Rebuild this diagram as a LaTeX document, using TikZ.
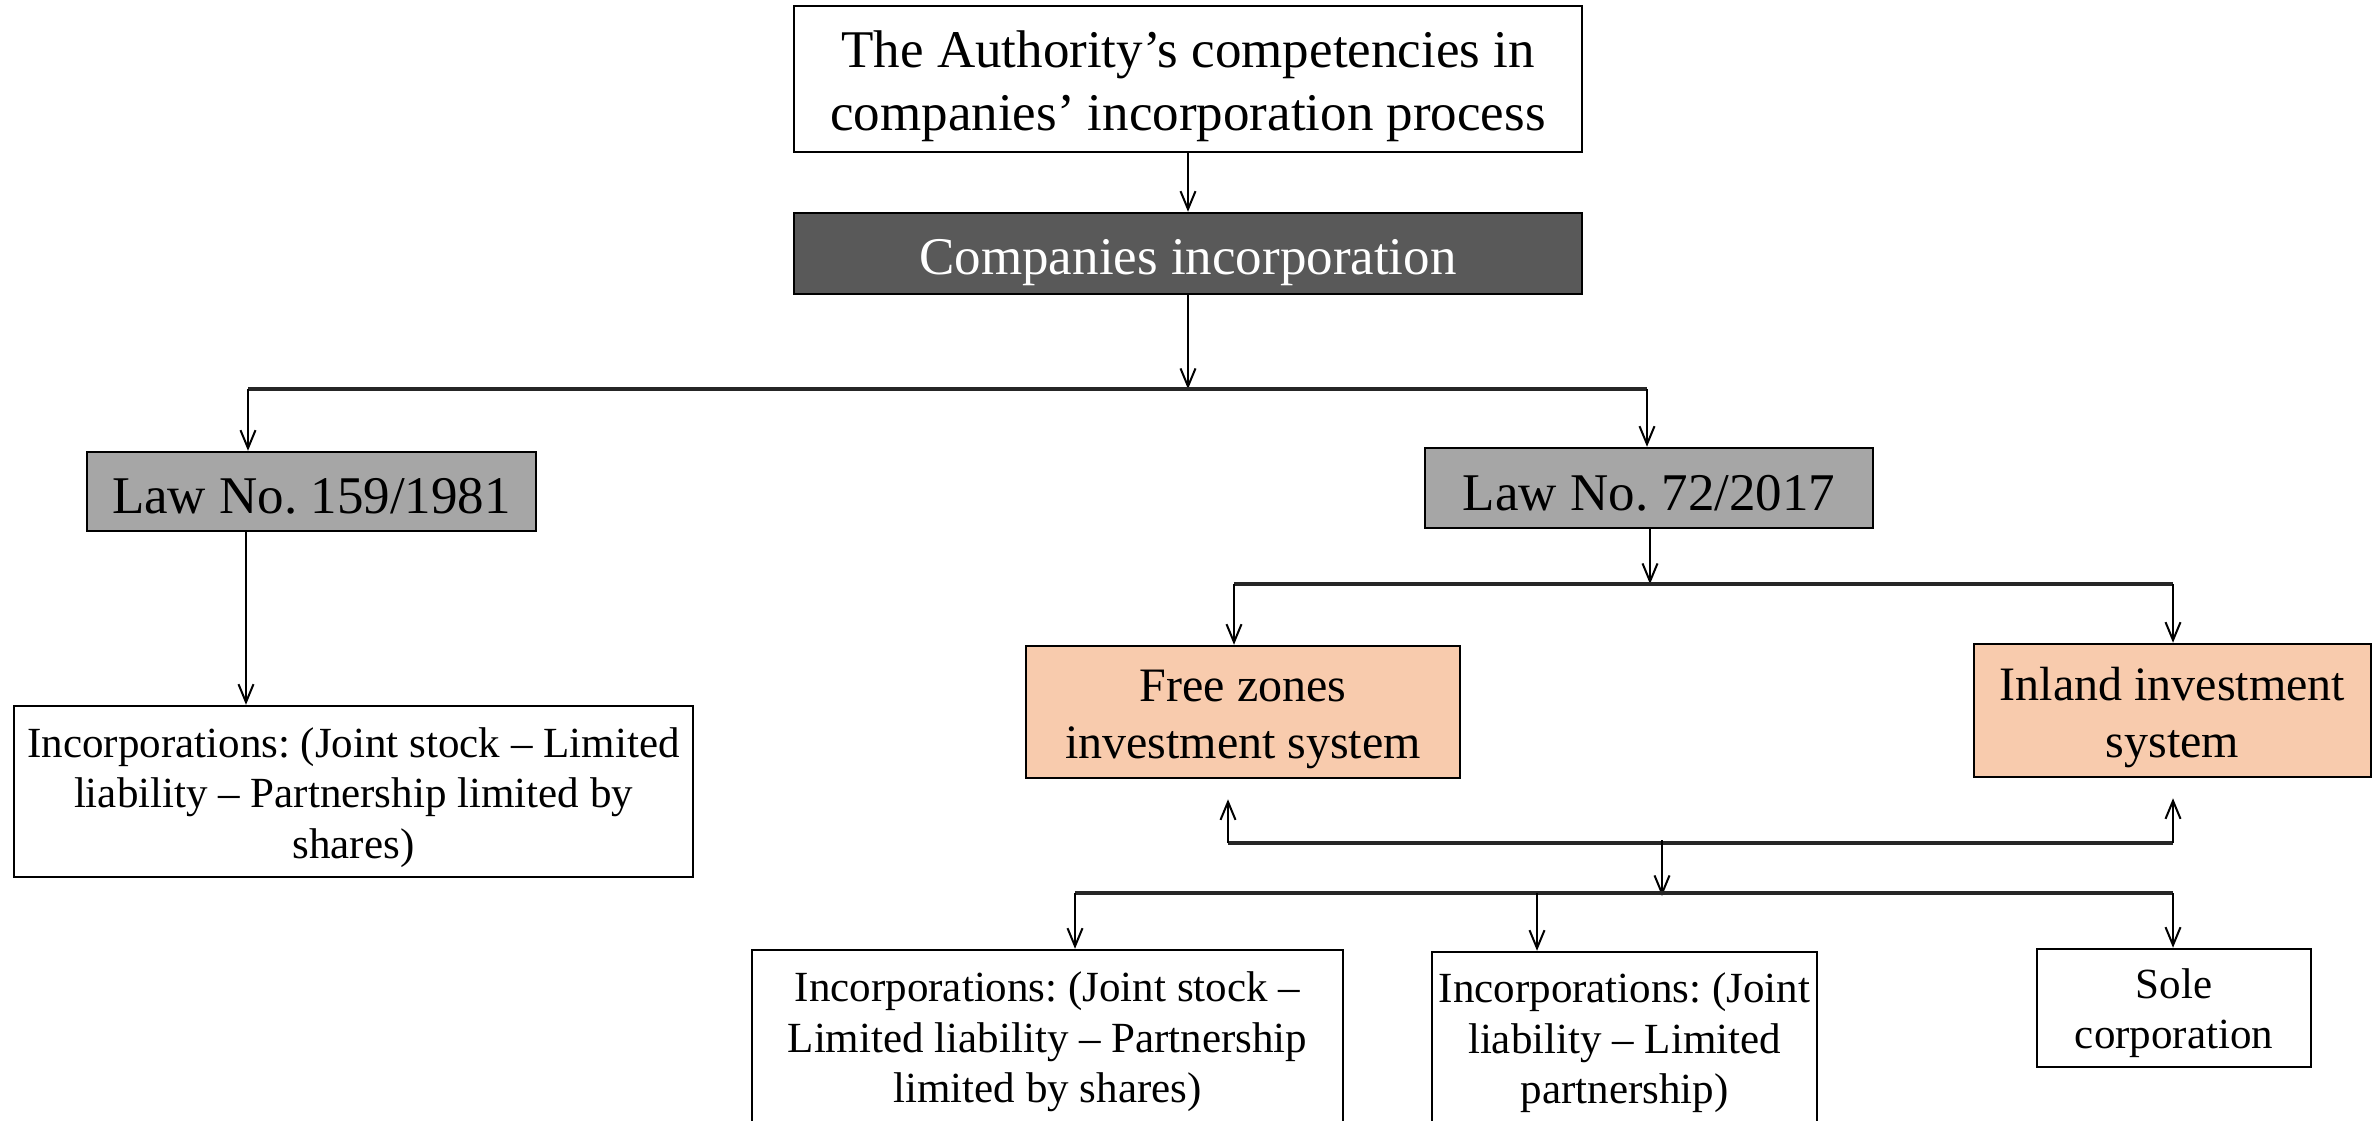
\documentclass[tikz,border=0pt]{standalone}
\usepackage{fontspec}
\setmainfont{Liberation Serif}
\usetikzlibrary{arrows.meta}
\frenchspacing
\definecolor{darkbox}{HTML}{595959}
\definecolor{lawgray}{HTML}{A6A6A6}
\definecolor{peach}{HTML}{F8CBAD}
\tikzset{
  box/.style={draw=black, line width=2.5pt, rectangle, inner sep=0pt},
  lbl/.style={inner sep=0pt, align=center, text=black},
  bigtxt/.style={lbl, font=\fontsize{53}{63}\selectfont},
  midtxt/.style={lbl, font=\fontsize{48}{57}\selectfont},
  smalltxt/.style={lbl, font=\fontsize{43}{50.5}\selectfont},
  arr/.style={line width=2pt, -{Straight Barb[length=18pt, width=15pt, line width=2pt]}},
  bus/.style={line width=4pt, draw=black!85},
}
\begin{document}
\begin{tikzpicture}[x=1pt, y=-1pt]
\useasboundingbox (0,0) rectangle (2374,1120);
\clip (0,0) rectangle (2374,1120);
\fill[white] (0,0) rectangle (2374,1120);

% boxes
\node[box, fill=white, minimum width=788pt, minimum height=146pt] (top) at (1188,79) {};
\node[box, fill=darkbox, minimum width=788pt, minimum height=81pt] (inc) at (1188,253.5) {};
\node[box, fill=lawgray, minimum width=449pt, minimum height=79pt] (lawA) at (311.5,491.5) {};
\node[box, fill=lawgray, minimum width=448pt, minimum height=80pt] (lawB) at (1649,488) {};
\node[box, fill=white, minimum width=679pt, minimum height=171pt] (incA) at (353.5,791.5) {};
\node[box, fill=peach, minimum width=434pt, minimum height=132pt] (free) at (1243,712) {};
\node[box, fill=peach, minimum width=397pt, minimum height=133pt] (inland) at (2172.5,710.5) {};
\node[box, fill=white, minimum width=591pt, minimum height=180pt] (incB) at (1047.5,1040) {};
\node[box, fill=white, minimum width=385pt, minimum height=178pt] (incC) at (1624.5,1041) {};
\node[box, fill=white, minimum width=274pt, minimum height=118pt] (sole) at (2174,1008) {};

% texts
\node[bigtxt] (topT) at ([yshift=-7pt]top.center) {The Authority’s competencies in\\companies’ incorporation process};
\node[bigtxt, text=white] (incT) at ([yshift=-9pt]inc.center) {Companies incorporation};
\node[bigtxt] (lawAT) at ([yshift=-5pt]lawA.center) {Law No. 159/1981};
\node[bigtxt] (lawBT) at ([yshift=-5pt]lawB.center) {Law No. 72/2017};
\node[smalltxt] (incAT) at ([yshift=-6pt]incA.center) {Incorporations: (Joint stock – Limited\\liability – Partnership limited by\\shares)};
\node[midtxt] (freeT) at ([yshift=-7pt]free.center) {Free zones\\investment system};
\node[midtxt] (inlandT) at ([yshift=-7pt]inland.center) {Inland investment\\system};
\node[smalltxt] (incBT) at ([yshift=-2pt]incB.center) {Incorporations: (Joint stock –\\Limited liability – Partnership\\limited by shares)};
\node[smalltxt] (incCT) at ([yshift=-2pt]incC.center) {Incorporations: (Joint\\liability – Limited\\partnership)};
\node[smalltxt] (soleT) at ([yshift=-5pt]sole.center) {Sole\\corporation};

% bus coordinates
\coordinate (b1) at (1188,389);
\coordinate (b1L) at (248,389);
\coordinate (b1R) at (1647,389);
\coordinate (b2) at (1650,584);
\coordinate (b2L) at (1234,584);
\coordinate (b2R) at (2173,584);
\coordinate (b3L) at (1228,843);
\coordinate (b3R) at (2173,843);
\coordinate (b3M) at (1662,840);
\coordinate (b4M) at (1662,893);
\coordinate (b4L) at (1075,893);
\coordinate (b4C) at (1537,893);
\coordinate (b4R) at (2173,893);
\coordinate (lawAout) at (246,531);

% connectors
\draw[arr] (top) -- (inc);
\draw[arr] (inc) -- (b1);
\draw[bus] (b1L) -- (b1R);
\draw[arr] (b1L) -- (b1L |- lawA.north);
\draw[arr] (b1R) -- (b1R |- lawB.north);
\draw[arr] (lawAout) -- (lawAout |- incA.north);
\draw[arr] (lawB.south -| b2) -- (b2);
\draw[bus] (b2L) -- (b2R);
\draw[arr] (b2L) -- (b2L |- free.north);
\draw[arr] (b2R) -- (b2R |- inland.north);
\draw[bus] (b3L) -- (b3R);
\draw[arr] (b3L) -- ([yshift=-20pt]b3L |- free.south);
\draw[arr] (b3R) -- ([yshift=-20pt]b3R |- inland.south);
\draw[arr] (b3M) -- ([yshift=-3pt]b4M);
\draw[bus] (b4L) -- (b4R);
\draw[arr] (b4L) -- (b4L |- incB.north);
\draw[arr] (b4C) -- (b4C |- incC.north);
\draw[arr] (b4R) -- (b4R |- sole.north);
\end{tikzpicture}
\end{document}
